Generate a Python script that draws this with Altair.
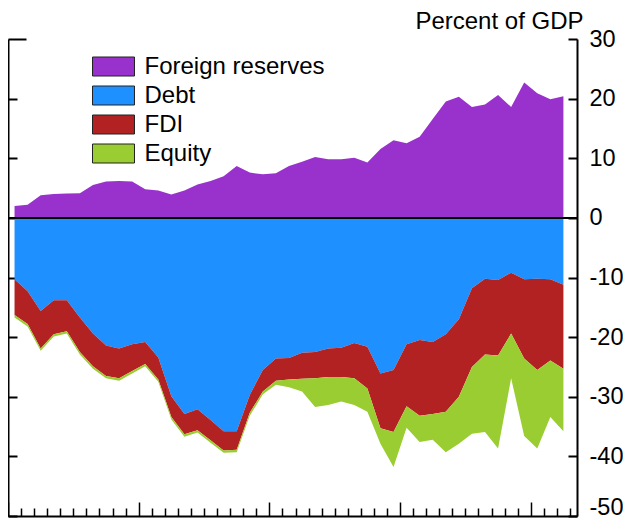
import altair as alt
import pandas as pd

years = list(range(1970, 2013))
reserves = [2.0, 2.2, 3.8, 4.0, 4.1, 4.15, 5.5, 6.1, 6.2, 6.1,
            4.8, 4.6, 3.9, 4.6, 5.6, 6.2, 7.0, 8.7, 7.6, 7.3,
            7.5, 8.7, 9.4, 10.2, 9.85, 9.85, 10.1, 9.3, 11.55, 13.0,
            12.5, 13.6, 16.6, 19.5, 20.3, 18.6, 19.0, 20.6, 18.6, 22.7,
            20.9, 19.9, 20.4]
debt = [-10.3, -12.3, -15.6, -13.8, -13.8, -16.7, -19.4, -21.4, -21.9, -21.2,
        -20.8, -23.4, -29.9, -32.9, -32.1, -33.9, -35.8, -35.8, -29.7, -25.5,
        -23.6, -23.5, -22.6, -22.5, -21.9, -21.8, -21.0, -21.6, -26.1, -25.5,
        -21.2, -20.5, -20.8, -19.5, -17.0, -11.8, -10.2, -10.4, -9.2, -10.3,
        -10.2, -10.3, -11.2]
fdi = [-6.0, -5.5, -6.3, -5.7, -5.2, -5.8, -5.5, -5.1, -5.0, -4.5,
       -3.7, -3.7, -3.5, -3.4, -3.5, -3.4, -3.2, -3.1, -3.0, -3.6,
       -3.7, -3.6, -4.4, -4.4, -4.8, -4.9, -5.9, -7.0, -9.2, -10.4,
       -10.4, -12.7, -12.1, -13.0, -13.0, -13.2, -12.7, -12.7, -10.2, -13.3,
       -15.3, -13.6, -14.1]
equity = [-0.4, -0.4, -0.4, -0.4, -0.4, -0.4, -0.4, -0.4, -0.4, -0.4,
          -0.4, -0.4, -0.4, -0.4, -0.4, -0.4, -0.4, -0.4, -0.5, -0.5,
          -0.7, -1.3, -2.1, -4.8, -4.7, -4.1, -4.5, -3.9, -2.6, -5.9,
          -3.6, -4.4, -4.3, -6.8, -7.9, -11.2, -13.0, -15.6, -7.5, -13.0,
          -13.2, -9.5, -10.5]

series = ["Foreign reserves", "Debt", "FDI", "Equity"]
colors = ["#9932CC", "#1E90FF", "#B22222", "#9ACD32"]
x_ticks = list(range(1970, 2014))
y_ticks = [30, 20, 10, 0, -10, -20, -30, -40, -50]
y_title = "Percent of GDP"

rows = []
for i, yr in enumerate(years):
    x = yr + 0.5
    d = debt[i]
    f = d + fdi[i]
    e = f + equity[i]
    rows.append(dict(x=x, s=series[0], lo=0.0, hi=reserves[i]))
    rows.append(dict(x=x, s=series[1], lo=d, hi=0.0))
    rows.append(dict(x=x, s=series[2], lo=f, hi=d))
    rows.append(dict(x=x, s=series[3], lo=e, hi=f))
df = pd.DataFrame(rows)

W, H = 569, 477
FONT = "Liberation Sans"
FS = 24
TFS = 23.5

xscale = alt.Scale(domain=[1970, 2013.54], nice=False, zero=False)
yscale = alt.Scale(domain=[-50, 30], nice=False, zero=False)

areas = alt.Chart(df).mark_area(opacity=1).encode(
    x=alt.X("x:Q", scale=xscale,
            axis=alt.Axis(orient="top", offset=-H, values=x_ticks, labels=False,
                          title=None, grid=False,
                          tickSize={"condition": {"test": "datum.value % 10 === 0", "value": 14}, "value": 8},
                          tickWidth=1.5, tickColor="black",
                          domainColor="black", domainWidth=2)),
    y=alt.Y("lo:Q", scale=yscale, stack=None,
            axis=alt.Axis(orient="right", offset=-W, values=y_ticks, labels=False,
                          title=None, grid=False,
                          tickSize={"condition": {"test": "datum.value === 30", "value": 18}, "value": 9},
                          tickWidth=2, tickColor="black",
                          domainColor="black", domainWidth=2)),
    y2="hi:Q",
    color=alt.Color("s:N", scale=alt.Scale(domain=series, range=colors),
                    legend=alt.Legend(orient="none", legendX=93.5, legendY=15.5, title=None,
                                      symbolType="M-2.21,-1L2.21,-1L2.21,1L-2.21,1Z",
                                      symbolSize=361, symbolStrokeColor="#222222",
                                      symbolStrokeWidth=1, symbolOpacity=1,
                                      labelFont=FONT, labelFontSize=FS, labelColor="black",
                                      labelLimit=0,
                                      labelOffset=19, rowPadding=5, padding=0)),
)

zero = alt.Chart(pd.DataFrame({"v": [0]})).mark_rule(color="black", strokeWidth=2).encode(
    y=alt.Y("v:Q", scale=yscale,
            axis=alt.Axis(orient="left", offset=-W, values=y_ticks,
                          labelAlign="left", labelPadding=-21, labelBaseline="middle",
                          labelExpr="datum.value + ''",
                          labelOffset={"condition": {"test": "datum.value === -50", "value": -9}, "value": 0},
                          labelFont=FONT, labelFontSize=TFS, labelColor="black",
                          tickSize=9, tickWidth=2, tickColor="black",
                          domainColor="black", domainWidth=2, grid=False,
                          title=y_title, titleAngle=0, titleAlign="right",
                          titleBaseline="middle", titleX=6, titleY=-17.5,
                          titleFont=FONT, titleFontSize=FS, titleFontWeight="normal",
                          titleColor="black"))
)

chart = alt.layer(areas, zero).resolve_axis(y="independent").properties(
    width=W, height=H,
    autosize=alt.AutoSizeParams(type="none"),
    padding={"left": 0, "top": 31, "right": 46, "bottom": 3},
).configure_view(stroke=None)

chart.save("out.html", embed_options={"renderer": "svg", "actions": False})
